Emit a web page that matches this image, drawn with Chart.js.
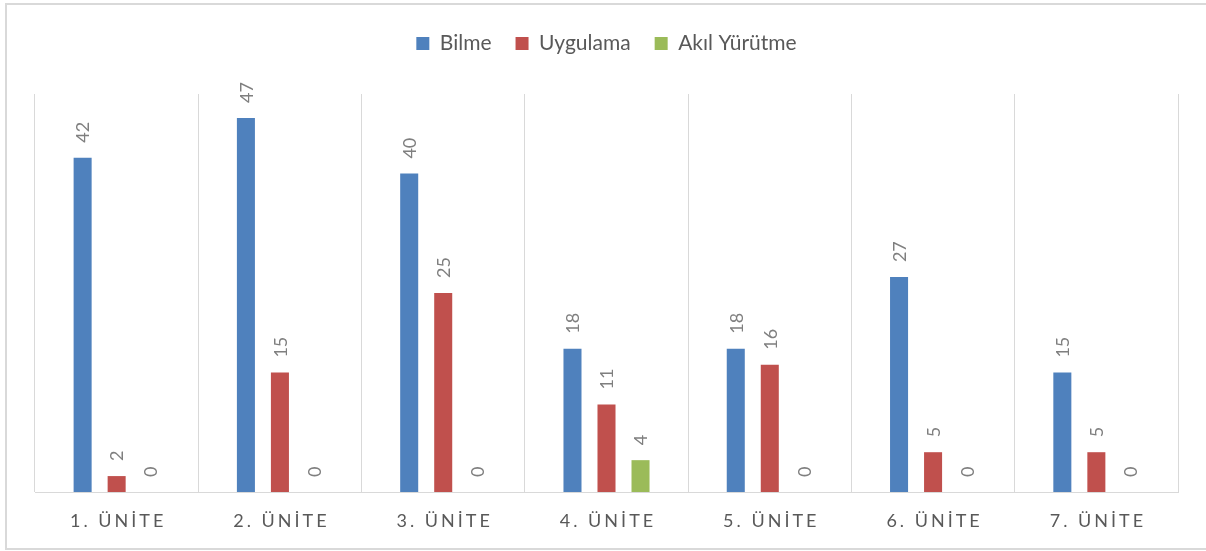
<!DOCTYPE html>
<html>
<head>
<meta charset="utf-8">
<script src="https://cdn.jsdelivr.net/npm/chart.js@4.4.0/dist/chart.umd.min.js"></script>
<style>
  html, body { margin: 0; padding: 0; background: #fff; }
  #wrap { width: 1206px; height: 551px; }
</style>
</head>
<body>
<div id="wrap"><canvas id="unitChart" width="1206" height="551"></canvas></div>
<script>
const categories = ['1. ÜNİTE', '2. ÜNİTE', '3. ÜNİTE', '4. ÜNİTE', '5. ÜNİTE', '6. ÜNİTE', '7. ÜNİTE'];
const bilme = [42, 47, 40, 18, 18, 27, 15];
const uygulama = [2, 15, 25, 11, 16, 5, 5];
const akilYurutme = [0, 0, 0, 4, 0, 0, 0];

// white background + light frame around the chart
const framePlugin = {
    id: 'frame',
    beforeDraw(chart) {
        const ctx = chart.ctx;
        ctx.save();
        ctx.fillStyle = '#fff';
        ctx.fillRect(0, 0, chart.width, chart.height);
        ctx.strokeStyle = '#d9d9d9';
        ctx.lineWidth = 2;
        ctx.strokeRect(6, 4, chart.width + 10, 545);
        ctx.restore();
    }
};

// extra room under the legend
const legendGap = {
    id: 'legendGap',
    beforeInit(chart) {
        const fit = chart.legend.fit;
        chart.legend.fit = function () {
            fit.call(this);
            this.height += 30;
        };
    }
};

// rotated value labels above each bar
const valueLabels = {
    id: 'valueLabels',
    afterDatasetsDraw(chart) {
        const ctx = chart.ctx;
        ctx.save();
        ctx.fillStyle = '#7f7f7f';
        ctx.font = '18px Lato, "Open Sans", sans-serif';
        ctx.textAlign = 'left';
        ctx.textBaseline = 'middle';
        chart.data.datasets.forEach((ds, i) => {
            chart.getDatasetMeta(i).data.forEach((bar, j) => {
                ctx.save();
                ctx.translate(bar.x, bar.y - 15);
                ctx.rotate(-Math.PI / 2);
                ctx.fillText(String(ds.data[j]), 0, 1);
                ctx.restore();
            });
        });
        ctx.restore();
    }
};

// category labels with letter spacing
const spacedTicks = {
    id: 'spacedTicks',
    afterDraw(chart) {
        const ctx = chart.ctx;
        const x = chart.scales.x;
        ctx.save();
        ctx.fillStyle = '#595959';
        ctx.font = '18px Lato, "Open Sans", sans-serif';
        ctx.letterSpacing = '3px';
        ctx.textAlign = 'center';
        ctx.textBaseline = 'middle';
        categories.forEach((c, i) => {
            ctx.fillText(c, x.getPixelForValue(i) + 1.5, chart.chartArea.bottom + 29);
        });
        ctx.restore();
    }
};

const ctx = document.getElementById('unitChart').getContext('2d');
new Chart(ctx, {
    type: 'bar',
    data: {
        labels: categories,
        datasets: [
            { label: 'Bilme', data: bilme, backgroundColor: '#4f81bd' },
            { label: 'Uygulama', data: uygulama, backgroundColor: '#c0504d' },
            { label: 'Akıl Yürütme', data: akilYurutme, backgroundColor: '#9bbb59' }
        ]
    },
    options: {
        responsive: false,
        animation: false,
        devicePixelRatio: 1,
        categoryPercentage: 0.625,
        barPercentage: 0.53,
        layout: {
            padding: { left: 35, right: 28, top: 9, bottom: 59 }
        },
        plugins: {
            tooltip: { enabled: false },
            legend: {
                position: 'top',
                labels: {
                    boxWidth: 13,
                    boxHeight: 13,
                    padding: 24,
                    color: '#595959',
                    font: { family: 'Lato, "Open Sans", sans-serif', size: 21 }
                }
            }
        },
        scales: {
            x: {
                grid: { color: '#d9d9d9', drawTicks: false, offset: true },
                border: { color: '#d9d9d9' },
                ticks: { display: false }
            },
            y: {
                display: false,
                min: 0,
                max: 50
            }
        }
    },
    plugins: [framePlugin, legendGap, valueLabels, spacedTicks]
});
</script>
</body>
</html>
